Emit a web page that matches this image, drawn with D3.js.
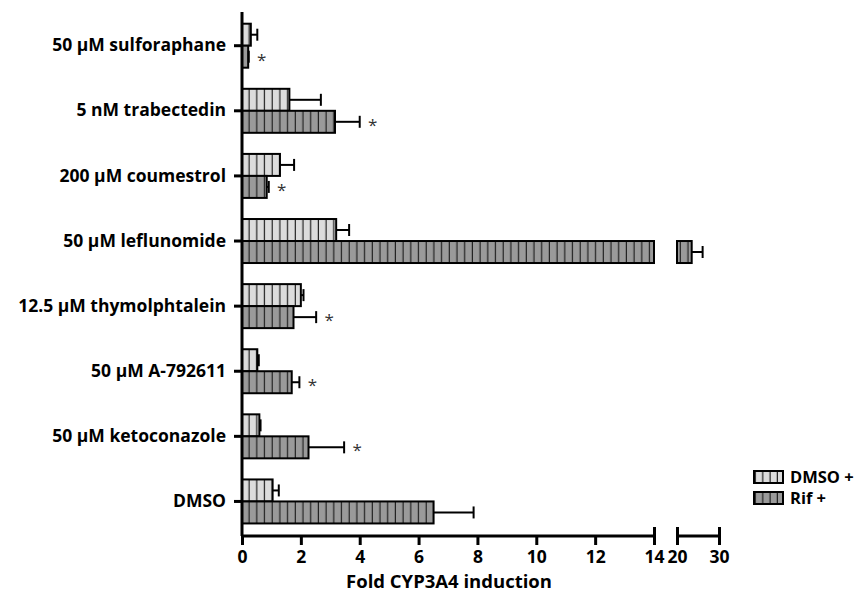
<!DOCTYPE html>
<html>
<head>
<meta charset="utf-8">
<script src="https://cdn.jsdelivr.net/npm/d3@7"></script>
<style>
  body { margin: 0; background: #fff; }
  svg text { font-family: "Open Sans", "Liberation Sans", sans-serif; font-weight: bold; }
  svg text.star { font-weight: normal; }
</style>
</head>
<body>
<svg class="chart" width="860" height="593"></svg>
<script>
// fold CYP3A4 induction
var categories = ["50 µM sulforaphane", "5 nM trabectedin", "200 µM coumestrol", "50 µM leflunomide",
                  "12.5 µM thymolphtalein", "50 µM A-792611", "50 µM ketoconazole", "DMSO"];
var dmsoMean = [0.30, 1.61, 1.29, 3.20, 2.00, 0.52, 0.59, 1.04];
var dmsoErr  = [0.22, 1.07, 0.48, 0.44, 0.09, 0.05, 0.04, 0.21];
var rifMean  = [0.21, 3.16, 0.84, 23.5, 1.75, 1.69, 2.26, 6.51];
var rifErr   = [0.02, 0.84, 0.07, 2.6, 0.77, 0.26, 1.21, 1.36];
var rifStar  = [true, true, true, false, true, true, true, false];
var seriesNames = ["DMSO +", "Rif +"];
var lowTicks = [0, 2, 4, 6, 8, 10, 12, 14];
var highTicks = [20, 30];

var svg = d3.select("svg.chart");
var fills = ["#dcdcdc", "#9a9a9a"];

// two-segment broken x axis
var xLow = d3.scaleLinear().domain([0, 14]).range([242, 654]);
var xHigh = d3.scaleLinear().domain([20, 30]).range([677, 719]);
var y = d3.scaleBand().domain(categories).range([13.15, 534.0]).padding(0);
var barH = 22;

function stripes(id, fill, x0, w) {
	var p = svg.append("defs").append("pattern")
		.attr("id", id)
		.attr("patternUnits", "userSpaceOnUse")
		.attr("x", x0).attr("y", 0)
		.attr("width", w).attr("height", 10);
	p.append("rect").attr("width", w).attr("height", 10).attr("fill", fill);
	p.append("rect").attr("x", w - 1.2).attr("width", 1.3).attr("height", 10).attr("fill", "#222");
}
stripes("pat0", fills[0], 242, 7.7);
stripes("pat1", fills[1], 242, 7.7);
// legend swatches have their own stripe origin
stripes("lpat0", fills[0], 754, 7.3);
stripes("lpat1", fills[1], 754, 7.3);

var rows = categories.map(function(c, i) {
	return [
		{cat: c, s: 0, v: dmsoMean[i], e: dmsoErr[i], star: false},
		{cat: c, s: 1, v: rifMean[i], e: rifErr[i], star: rifStar[i]}
	];
}).flat();

function barTop(d) { return y(d.cat) + y.bandwidth() / 2 - (d.s === 0 ? barH : 0); }
function barMid(d) { return barTop(d) + barH / 2; }
function xv(v) { return v <= 14 ? xLow(v) : xHigh(v); }

var g = svg.append("g");

// bars, broken ones get two pieces
rows.forEach(function(d) {
	var pieces = d.v <= 14 ? [[0, d.v]] : [[0, 14], [20, d.v]];
	pieces.forEach(function(p) {
		var sc = p[0] >= 20 ? xHigh : xLow;
		g.append("rect")
			.attr("x", sc(p[0]))
			.attr("y", barTop(d))
			.attr("width", sc(p[1]) - sc(p[0]))
			.attr("height", barH)
			.attr("fill", "url(#pat" + d.s + ")")
			.attr("stroke", "#000")
			.attr("stroke-width", 2);
	});
	// error bar
	var x0 = xv(d.v), x1 = xv(d.v + d.e);
	g.append("line")
		.attr("x1", x0).attr("x2", x1)
		.attr("y1", barMid(d)).attr("y2", barMid(d))
		.attr("stroke", "#000").attr("stroke-width", 2);
	g.append("line")
		.attr("x1", x1).attr("x2", x1)
		.attr("y1", barMid(d) - 6).attr("y2", barMid(d) + 6)
		.attr("stroke", "#000").attr("stroke-width", 2);
	if (d.star) {
		g.append("text")
			.attr("class", "star")
			.attr("x", x1 + 13)
			.attr("y", barMid(d) + 9)
			.attr("text-anchor", "middle")
			.attr("font-size", 17)
			.attr("fill", "#333")
			.text("*");
	}
});

// y axis
var yAxis = svg.append("g")
	.attr("transform", "translate(242,0)")
	.call(d3.axisLeft(y).tickSize(8).tickPadding(8));
yAxis.select(".domain").attr("d", "M0,12V536").attr("stroke-width", 3);
yAxis.selectAll(".tick line").attr("stroke-width", 3);
yAxis.selectAll(".tick text").attr("font-size", 17.5).attr("fill", "#000");

// x axis, low segment
var axLow = svg.append("g")
	.attr("transform", "translate(0,536)")
	.call(d3.axisBottom(xLow).tickValues(lowTicks).tickSize(9).tickPadding(6));
axLow.select(".domain").attr("d", "M241,0H654").attr("stroke-width", 3);
axLow.selectAll(".tick line").attr("stroke-width", 3);
axLow.selectAll(".tick text").attr("font-size", 17.5).attr("fill", "#000");

var axHigh = svg.append("g")
	.attr("transform", "translate(0,536)")
	.call(d3.axisBottom(xHigh).tickValues(highTicks).tickSize(9).tickPadding(6));
axHigh.select(".domain").attr("d", "M677,0H719").attr("stroke-width", 3);
axHigh.selectAll(".tick line").attr("stroke-width", 3).attr("y1", -9);
axHigh.selectAll(".tick text").attr("font-size", 17.5).attr("fill", "#000");
axLow.selectAll(".tick").filter(function(d) { return d === 14; }).select("line").attr("y1", -9);

svg.append("text")
	.attr("x", 449).attr("y", 588)
	.attr("text-anchor", "middle")
	.attr("font-size", 18.5)
	.text("Fold CYP3A4 induction");

// legend
var legend = svg.append("g").selectAll("g")
	.data(seriesNames).join("g")
	.attr("transform", function(d, i) { return "translate(754," + (471 + i * 21) + ")"; });
legend.append("rect")
	.attr("width", 29).attr("height", 12)
	.attr("fill", function(d, i) { return "url(#lpat" + i + ")"; })
	.attr("stroke", "#000").attr("stroke-width", 2);
legend.append("text")
	.attr("x", 36).attr("y", 12)
	.attr("font-size", 16.5)
	.text(function(d) { return d; });
</script>
</body>
</html>
